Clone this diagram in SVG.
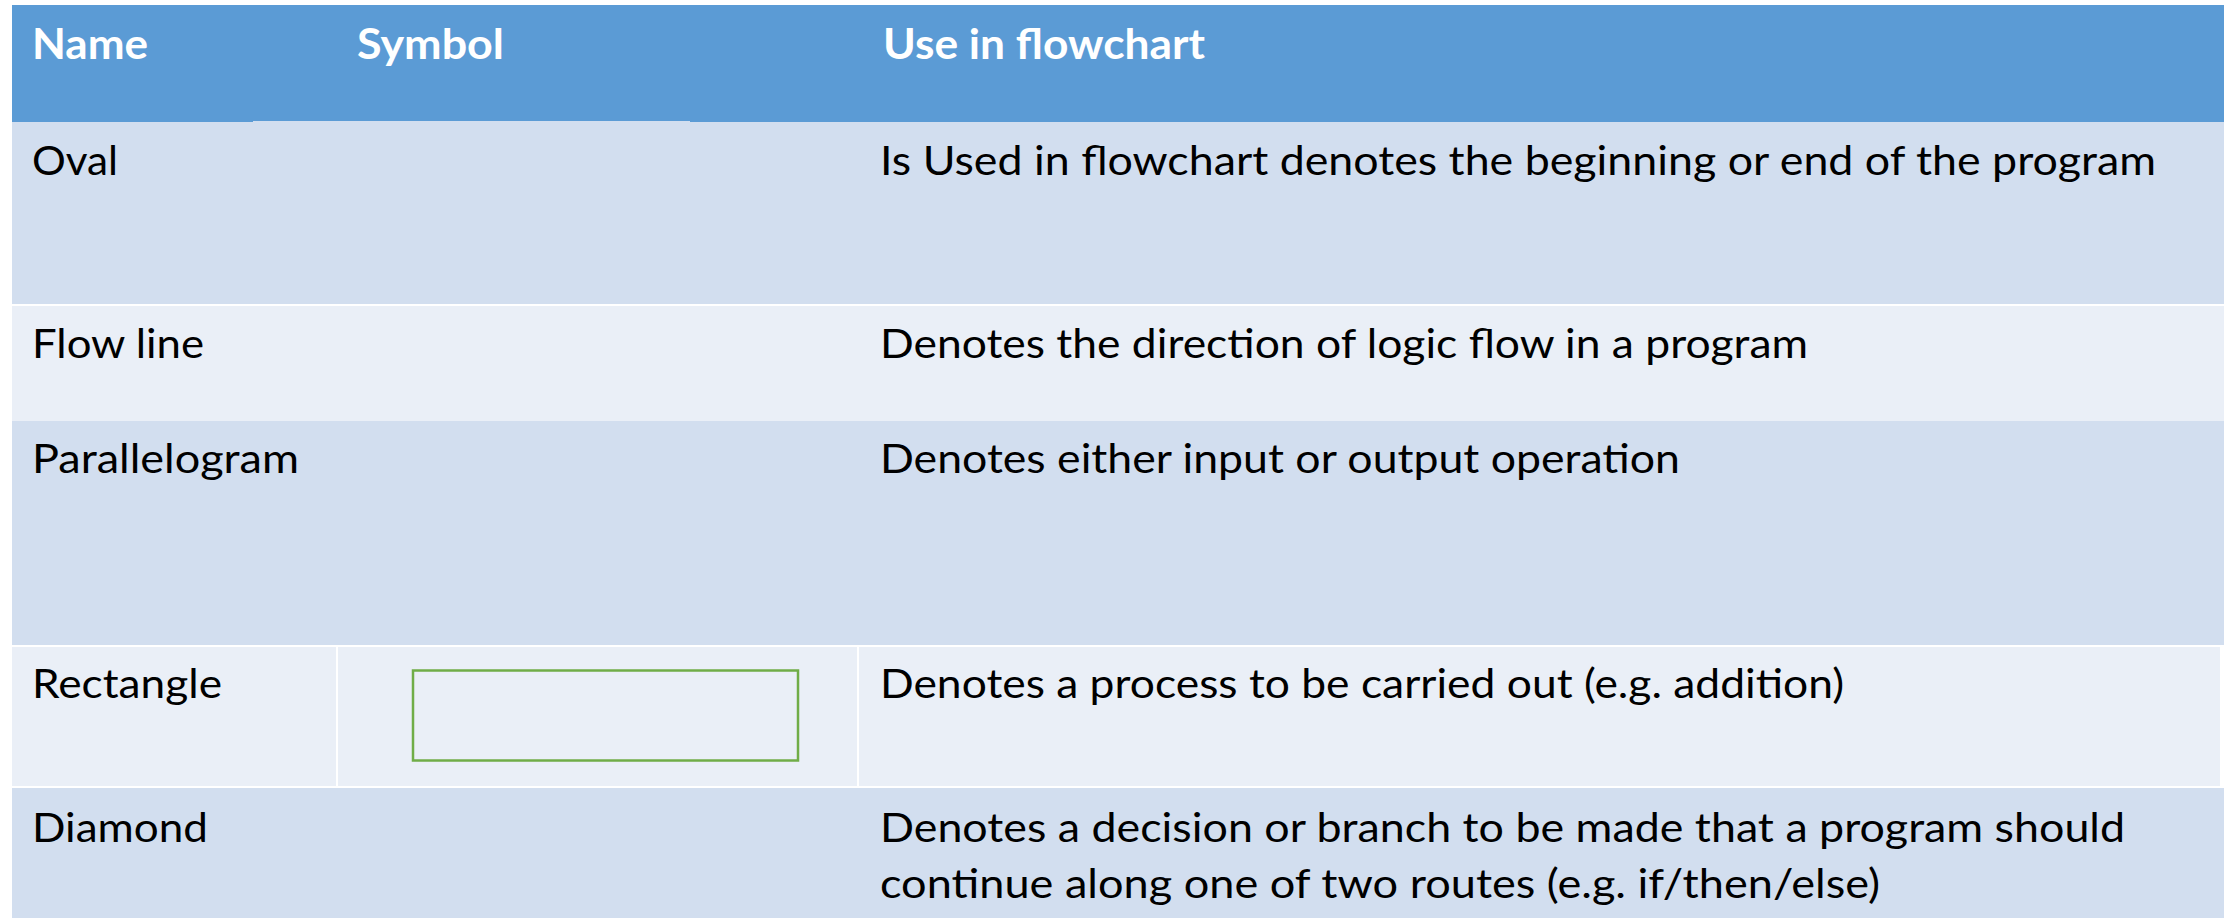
<svg xmlns="http://www.w3.org/2000/svg" width="2233" height="918" viewBox="0 0 2233 918">
  <style>
    .hdr { fill: #5B9BD5; }
    .dark { fill: #D2DEEF; }
    .light { fill: #EAEFF7; }
    .sep { fill: #FFFFFF; }
    .th { font-family: Lato, "Open Sans", "Liberation Sans", sans-serif; font-weight: bold; font-size: 42px; fill: #FFFFFF; }
    .td { font-family: Lato, "Open Sans", "Liberation Sans", sans-serif; font-size: 41px; fill: #000000; }
    .sym { fill: none; stroke: #70AD47; stroke-width: 2.5; }
  </style>
  <rect width="2233" height="918" fill="#FFFFFF"/>

  <!-- header row -->
  <g id="header">
    <rect class="hdr" x="12" y="5" width="2212" height="117"/>
    <rect class="dark" x="253" y="121" width="437" height="2"/>
    <text class="th" x="32" y="59" textLength="116" lengthAdjust="spacingAndGlyphs">Name</text>
    <text class="th" x="357" y="59" textLength="147" lengthAdjust="spacingAndGlyphs">Symbol</text>
    <text class="th" x="883" y="59" textLength="322" lengthAdjust="spacingAndGlyphs">Use in flowchart</text>
  </g>

  <!-- Oval -->
  <g id="row-oval">
    <rect class="dark" x="12" y="122" width="2212" height="182"/>
    <text class="td" x="32" y="175" textLength="86" lengthAdjust="spacingAndGlyphs">Oval</text>
    <text class="td" x="880" y="175" textLength="1276" lengthAdjust="spacingAndGlyphs">Is Used in flowchart denotes the beginning or end of the program</text>
  </g>

  <!-- Flow line -->
  <g id="row-flowline">
    <rect class="light" x="12" y="306" width="2212" height="115"/>
    <text class="td" x="32" y="358" textLength="172" lengthAdjust="spacingAndGlyphs">Flow line</text>
    <text class="td" x="880" y="358" textLength="928" lengthAdjust="spacingAndGlyphs">Denotes the direction of logic flow in a program</text>
  </g>

  <!-- Parallelogram -->
  <g id="row-parallelogram">
    <rect class="dark" x="12" y="421" width="2212" height="224"/>
    <text class="td" x="32" y="473" textLength="267" lengthAdjust="spacingAndGlyphs">Parallelogram</text>
    <text class="td" x="880" y="473" textLength="800" lengthAdjust="spacingAndGlyphs">Denotes either input or output operation</text>
  </g>

  <!-- Rectangle -->
  <g id="row-rectangle">
    <rect class="light" x="12" y="647" width="2208" height="139"/>
    <rect class="sep" x="336" y="647" width="2" height="139"/>
    <rect class="sep" x="857" y="647" width="2" height="139"/>
    <text class="td" x="32" y="698" textLength="190" lengthAdjust="spacingAndGlyphs">Rectangle</text>
    <rect id="process-symbol" class="sym" x="413" y="670.5" width="385" height="90"/>
    <text class="td" x="880" y="698" textLength="964" lengthAdjust="spacingAndGlyphs">Denotes a process to be carried out (e.g. addition)</text>
  </g>

  <!-- Diamond -->
  <g id="row-diamond">
    <rect class="dark" x="12" y="788" width="2212" height="130"/>
    <text class="td" x="32" y="842" textLength="176" lengthAdjust="spacingAndGlyphs">Diamond</text>
    <text class="td" x="880" y="842" textLength="1245" lengthAdjust="spacingAndGlyphs">Denotes a decision or branch to be made that a program should</text>
    <text class="td" x="880" y="898" textLength="1000" lengthAdjust="spacingAndGlyphs">continue along one of two routes (e.g. if/then/else)</text>
  </g>

  <!-- no connectors in this table -->
  <g id="connectors"/>
</svg>
